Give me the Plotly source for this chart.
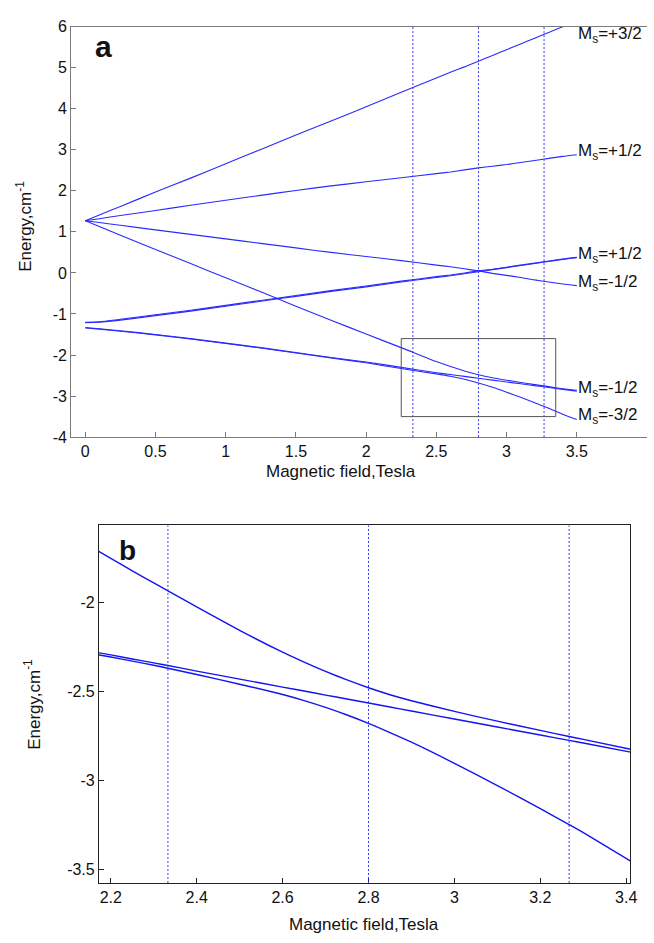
import plotly.graph_objects as go

# ---------------- Panel a data (Magnetic field, Tesla vs Energy, cm^-1) ----------------
xa = [0, 0.1, 0.25, 0.5, 0.75, 1.0, 1.25, 1.5, 1.75, 2.0, 2.25, 2.5, 2.6, 2.7, 2.8, 2.9,
      3.0, 3.1, 3.2, 3.3, 3.4, 3.5]
a_ms_p32 = [1.27, 1.41, 1.62, 1.97, 2.31, 2.66, 3.01, 3.36, 3.70, 4.05, 4.40, 4.75, 4.89,
            5.02, 5.16, 5.30, 5.44, 5.58, 5.72, 5.86, 6.00, 6.14]
a_ms_p12_up = [1.27, 1.32, 1.40, 1.52, 1.65, 1.77, 1.89, 2.01, 2.12, 2.22, 2.32, 2.42, 2.46,
               2.51, 2.56, 2.60, 2.64, 2.69, 2.74, 2.79, 2.84, 2.88]
a_ms_m12_up = [1.27, 1.23, 1.16, 1.05, 0.94, 0.83, 0.72, 0.61, 0.50, 0.40, 0.30, 0.19, 0.15,
               0.10, 0.05, -0.01, -0.06, -0.11, -0.17, -0.22, -0.27, -0.31]
a_ms_p12_lo1 = [-1.20, -1.19, -1.13, -1.02, -0.91, -0.79, -0.67, -0.55, -0.43, -0.32, -0.20,
                -0.09, -0.05, 0.00, 0.05, 0.09, 0.14, 0.19, 0.24, 0.29, 0.34, 0.38]
a_ms_p12_lo2 = [-1.21, -1.20, -1.15, -1.04, -0.93, -0.81, -0.69, -0.57, -0.45, -0.34, -0.22,
                -0.11, -0.07, -0.02, 0.03, 0.08, 0.13, 0.18, 0.23, 0.28, 0.33, 0.37]
a_level_A = [1.27, 1.13, 0.92, 0.57, 0.23, -0.12, -0.46, -0.81, -1.15, -1.49, -1.82, -2.16,
             -2.28, -2.388, -2.48, -2.553, -2.613, -2.668, -2.72, -2.77, -2.82, -2.86]
a_level_B = [-1.33, -1.36, -1.41, -1.50, -1.60, -1.71, -1.82, -1.94, -2.06, -2.17, -2.30,
             -2.431, -2.476, -2.521, -2.566, -2.611, -2.656, -2.701, -2.746, -2.791, -2.836,
             -2.88]
a_level_C = [-1.34, -1.37, -1.42, -1.51, -1.61, -1.72, -1.83, -1.95, -2.07, -2.19, -2.33,
             -2.46, -2.518, -2.59, -2.68, -2.786, -2.905, -3.03, -3.16, -3.295, -3.44, -3.57]

a_labels = ["M<sub>s</sub>=+3/2", "M<sub>s</sub>=+1/2", "M<sub>s</sub>=+1/2",
            "M<sub>s</sub>=-1/2", "M<sub>s</sub>=-1/2", "M<sub>s</sub>=-3/2"]
a_label_y = [5.74, 2.90, 0.40, -0.29, -2.87, -3.53]

# ---------------- Panel b data (zoom on avoided crossing) ----------------
xb = [2.17, 2.2, 2.25, 2.3, 2.333, 2.4, 2.5, 2.6, 2.65, 2.7, 2.75, 2.8, 2.85, 2.9, 3.0,
      3.1, 3.2, 3.267, 3.3, 3.41]
b_level_A = [-1.71, -1.752, -1.822, -1.89, -1.935, -2.025, -2.157, -2.28, -2.336, -2.388,
             -2.436, -2.48, -2.519, -2.553, -2.613, -2.668, -2.72, -2.754, -2.77, -2.826]
b_level_B = [-2.282, -2.295, -2.318, -2.34, -2.355, -2.386, -2.431, -2.476, -2.498, -2.521,
             -2.543, -2.566, -2.588, -2.611, -2.656, -2.701, -2.746, -2.776, -2.791, -2.842]
b_level_C = [-2.294, -2.307, -2.33, -2.353, -2.37, -2.405, -2.46, -2.518, -2.552, -2.59,
             -2.633, -2.68, -2.732, -2.786, -2.905, -3.03, -3.16, -3.25, -3.295, -3.455]

resonance_fields = [2.333, 2.8, 3.267]
zoom_box_x = [2.25, 3.35]
zoom_box_y = [-3.5, -1.6]

a_xticks = [0, 0.5, 1, 1.5, 2, 2.5, 3, 3.5]
a_xticklabels = ["0", "0.5", "1", "1.5", "2", "2.5", "3", "3.5"]
a_yticks = [-4, -3, -2, -1, 0, 1, 2, 3, 4, 5, 6]
a_yticklabels = ["-4", "-3", "-2", "-1", "0", "1", "2", "3", "4", "5", "6"]
b_xticks = [2.2, 2.4, 2.6, 2.8, 3.0, 3.2, 3.4]
b_xticklabels = ["2.2", "2.4", "2.6", "2.8", "3", "3.2", "3.4"]
b_yticks = [-3.5, -3, -2.5, -2]
b_yticklabels = ["-3.5", "-3", "-2.5", "-2"]

FONT = "Liberation Sans, Arial, Helvetica, sans-serif"
W, H = 654, 943
LINE_A = "#2a2aff"
LINE_B = "#1414f0"

fig = go.Figure()

for ys in [a_ms_p32, a_ms_p12_up, a_ms_m12_up, a_ms_p12_lo1, a_ms_p12_lo2,
           a_level_A, a_level_B, a_level_C]:
    fig.add_trace(go.Scatter(x=xa, y=ys, mode="lines", xaxis="x", yaxis="y",
                             line=dict(color=LINE_A, width=1.1, shape="spline", smoothing=0.6),
                             hoverinfo="skip", showlegend=False))

for ys in [b_level_A, b_level_B, b_level_C]:
    fig.add_trace(go.Scatter(x=xb, y=ys, mode="lines", xaxis="x2", yaxis="y2",
                             line=dict(color=LINE_B, width=1.4, shape="spline", smoothing=0.6),
                             hoverinfo="skip", showlegend=False))

shapes = []
for xr, yr in [("x", "y domain"), ("x2", "y2 domain")]:
    for f in resonance_fields:
        shapes.append(dict(type="line", xref=xr, yref=yr, x0=f, x1=f, y0=0, y1=1,
                           line=dict(color="#3535ff", width=1, dash="2px,2px")))
shapes.append(dict(type="rect", xref="x", yref="y", x0=zoom_box_x[0], x1=zoom_box_x[1],
                   y0=zoom_box_y[0], y1=zoom_box_y[1], line=dict(color="#555555", width=1)))

annotations = []
for txt, yv in zip(a_labels, a_label_y):
    annotations.append(dict(x=3.5, y=yv, xref="x", yref="y", text=txt, showarrow=False,
                            xanchor="left", yanchor="middle", xshift=-1, yshift=2,
                            font=dict(family=FONT, size=17, color="#111")))
annotations += [
    dict(x=105 / W, y=1 - 39 / H, xref="paper", yref="paper", text="<b>a</b>", showarrow=False,
         xanchor="center", yanchor="middle", font=dict(family=FONT, size=30, color="#111")),
    dict(x=129 / W, y=1 - 552 / H, xref="paper", yref="paper", text="<b>b</b>", showarrow=False,
         xanchor="center", yanchor="middle", font=dict(family=FONT, size=28, color="#111")),
    dict(x=345 / W, y=1 - 472 / H, xref="paper", yref="paper", text="Magnetic field,Tesla",
         showarrow=False, xanchor="center", yanchor="middle",
         font=dict(family=FONT, size=17, color="#111")),
    dict(x=368 / W, y=1 - 933 / H, xref="paper", yref="paper", text="Magnetic field,Tesla",
         showarrow=False, xanchor="center", yanchor="middle",
         font=dict(family=FONT, size=17, color="#111")),
    dict(x=24 / W, y=1 - 222 / H, xref="paper", yref="paper", text="Energy,cm<sup>-1</sup>",
         showarrow=False, xanchor="center", yanchor="middle", textangle=-90,
         font=dict(family=FONT, size=17, color="#111")),
    dict(x=33 / W, y=1 - 709 / H, xref="paper", yref="paper", text="Energy,cm<sup>-1</sup>",
         showarrow=False, xanchor="center", yanchor="middle", textangle=-90,
         font=dict(family=FONT, size=17, color="#111")),
]

axis_common = dict(showgrid=False, zeroline=False, showline=True, ticks="inside", ticklen=5,
                   tickfont=dict(family=FONT, size=16, color="#111"))

fig.update_layout(
    width=W, height=H, margin=dict(l=0, r=0, t=0, b=0),
    paper_bgcolor="white", plot_bgcolor="white", showlegend=False,
    xaxis=dict(domain=[72 / W, 1.0], range=[-0.1, 4.0], tickvals=a_xticks,
               ticktext=a_xticklabels, anchor="y", linecolor="#7a7a7a", tickcolor="#7a7a7a",
               mirror=True, **axis_common),
    yaxis=dict(domain=[1 - 437 / H, 1 - 19 / H], range=[-4, 6], tickvals=a_yticks,
               ticktext=a_yticklabels, anchor="x", linecolor="#7a7a7a", tickcolor="#7a7a7a",
               mirror=False, **axis_common),
    xaxis2=dict(domain=[100 / W, 637 / W], range=[2.1724, 3.4092], tickvals=b_xticks,
                ticktext=b_xticklabels, anchor="y2", linecolor="#222", tickcolor="#222",
                mirror=True, **axis_common),
    yaxis2=dict(domain=[1 - 891 / H, 1 - 527 / H], range=[-3.578, -1.567], tickvals=b_yticks,
                ticktext=b_yticklabels, anchor="x2", linecolor="#222", tickcolor="#222",
                mirror=True, **axis_common),
    shapes=shapes, annotations=annotations,
)

fig.write_html("out.html", config={"displayModeBar": False},
               post_script="document.body.style.margin='0';")
